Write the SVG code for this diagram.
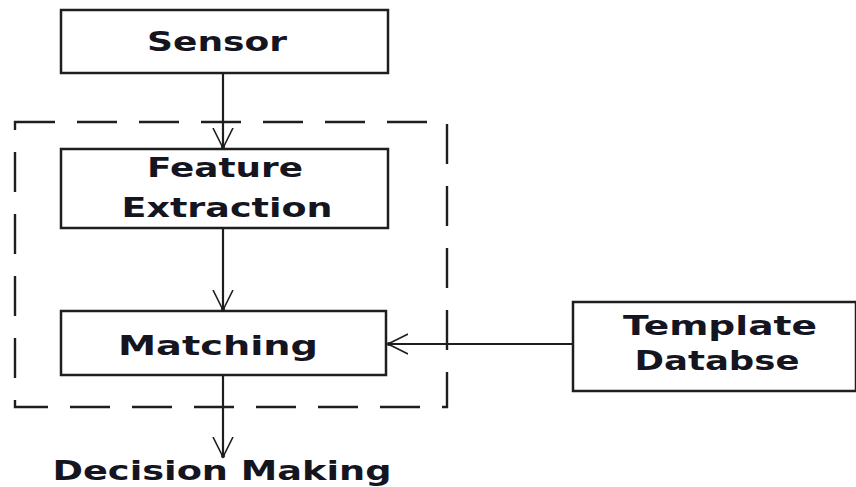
<svg xmlns="http://www.w3.org/2000/svg" width="856" height="487" viewBox="0 0 856 487">
<style>
.box{fill:#fff;stroke:#1e1e1e;stroke-width:2.5}
.lbl{font-family:"DejaVu Sans",Verdana,sans-serif;font-weight:bold;font-size:27px;fill:#15151f;text-anchor:middle}
.con{stroke:#1e1e1e;stroke-width:2.2;fill:none}
.dash{stroke:#1e1e1e;stroke-width:2.4;fill:none;stroke-dasharray:40 22}
</style>
<defs>
<marker id="open" viewBox="0 0 22 22" refX="20" refY="11" markerWidth="22" markerHeight="22" markerUnits="userSpaceOnUse" orient="auto">
<path d="M0,1 L20,11 L0,21" fill="none" stroke="#1e1e1e" stroke-width="1.6"/>
<circle cx="19" cy="11" r="2" fill="#1e1e1e"/>
</marker>
</defs>
<rect width="856" height="487" fill="#fff"/>
<g id="group-boundary"><rect class="dash" x="15" y="122" width="432" height="285"/></g>
<g id="sensor"><rect class="box" x="61" y="10" width="327" height="63"/><text class="lbl" x="217" y="51" textLength="140" lengthAdjust="spacingAndGlyphs">Sensor</text></g>
<g id="feature-extraction"><rect class="box" x="61" y="149" width="327" height="79"/><text class="lbl" x="225" y="177" textLength="156" lengthAdjust="spacingAndGlyphs">Feature</text><text class="lbl" x="227" y="217" textLength="211" lengthAdjust="spacingAndGlyphs">Extraction</text></g>
<g id="matching"><rect class="box" x="61" y="311" width="325" height="64"/><text class="lbl" x="218" y="355" textLength="200" lengthAdjust="spacingAndGlyphs">Matching</text></g>
<g id="template-database"><rect class="box" x="573" y="302" width="283" height="89"/><text class="lbl" x="720" y="335" textLength="194" lengthAdjust="spacingAndGlyphs">Template</text><text class="lbl" x="717" y="370" textLength="165" lengthAdjust="spacingAndGlyphs">Databse</text></g>
<g id="decision-making"><text class="lbl" x="222" y="480" textLength="339" lengthAdjust="spacingAndGlyphs">Decision Making</text></g>
<g id="connectors">
<line class="con" x1="223" y1="73" x2="223" y2="148" marker-end="url(#open)"/>
<line class="con" x1="223" y1="228" x2="223" y2="310" marker-end="url(#open)"/>
<line class="con" x1="223" y1="375" x2="223" y2="457" marker-end="url(#open)"/>
<line class="con" x1="573" y1="344" x2="388" y2="344" marker-end="url(#open)"/>
</g>
</svg>
